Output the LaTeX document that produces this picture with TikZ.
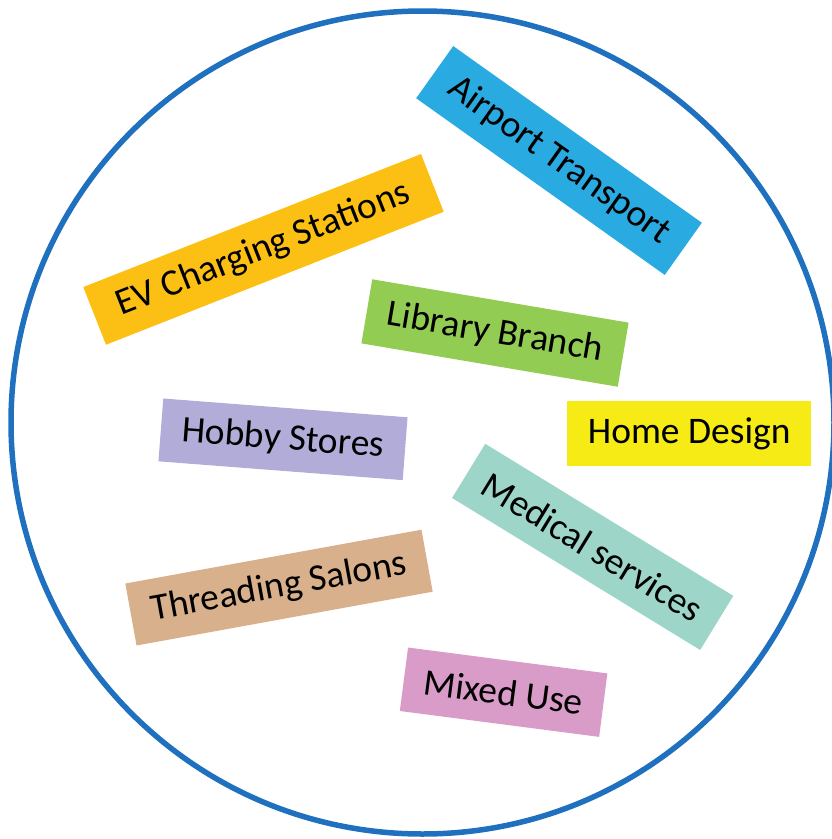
\documentclass[tikz,border=0pt]{standalone}
\usepackage{fontspec}
\setmainfont{Carlito}
\definecolor{ringblue}{RGB}{31,112,190}
\definecolor{cairport}{RGB}{41,171,226}
\definecolor{cev}{RGB}{252,192,20}
\definecolor{clib}{RGB}{146,204,82}
\definecolor{chobby}{RGB}{177,172,216}
\definecolor{chome}{RGB}{246,235,20}
\definecolor{cmed}{RGB}{157,214,201}
\definecolor{cthread}{RGB}{217,176,140}
\definecolor{cmixed}{RGB}{217,156,200}
\tikzset{
  tag/.style={inner sep=0pt, minimum height=64pt, align=center,
    font=\fontsize{37.5}{44}\selectfont, text=black}
}
\begin{document}
\begin{tikzpicture}[x=1pt,y=1pt]
\useasboundingbox (0,0) rectangle (832,-839);
\node[draw=ringblue, line width=5.5pt, circle, minimum size=823pt, inner sep=0pt] (ring) at (422.5,-422.5) {};
\node[tag, fill=cairport, minimum width=305pt, minimum height=64pt, rotate=-35.4] (airport) at (559,-160.5) {Airport Transport};
\node[tag, fill=cev, minimum width=363pt, minimum height=62pt, rotate=21.5] (ev) at (263.5,-249.4) {EV Charging Stations};
\node[tag, fill=clib, minimum width=260pt, minimum height=65pt, rotate=-9.6] (lib) at (495,-333) {Library Branch};
\node[tag, fill=chobby, minimum width=245pt, minimum height=63pt, rotate=-4.4] (hobby) at (283,-439.3) {Hobby Stores};
\node[tag, fill=chome, minimum width=244pt, minimum height=65pt] (home) at (689.2,-433.5) {Home Design};
\node[tag, fill=cmed, minimum width=291pt, minimum height=63.5pt, rotate=-31.5] (med) at (592.7,-546.9) {Medical services};
\node[tag, fill=cthread, minimum width=301pt, minimum height=63pt, rotate=10.3] (thread) at (279,-587.6) {Threading Salons};
\node[tag, fill=cmixed, minimum width=201pt, minimum height=64pt, rotate=-7.4] (mixed) at (503.6,-692.2) {Mixed Use};
\end{tikzpicture}
\end{document}
